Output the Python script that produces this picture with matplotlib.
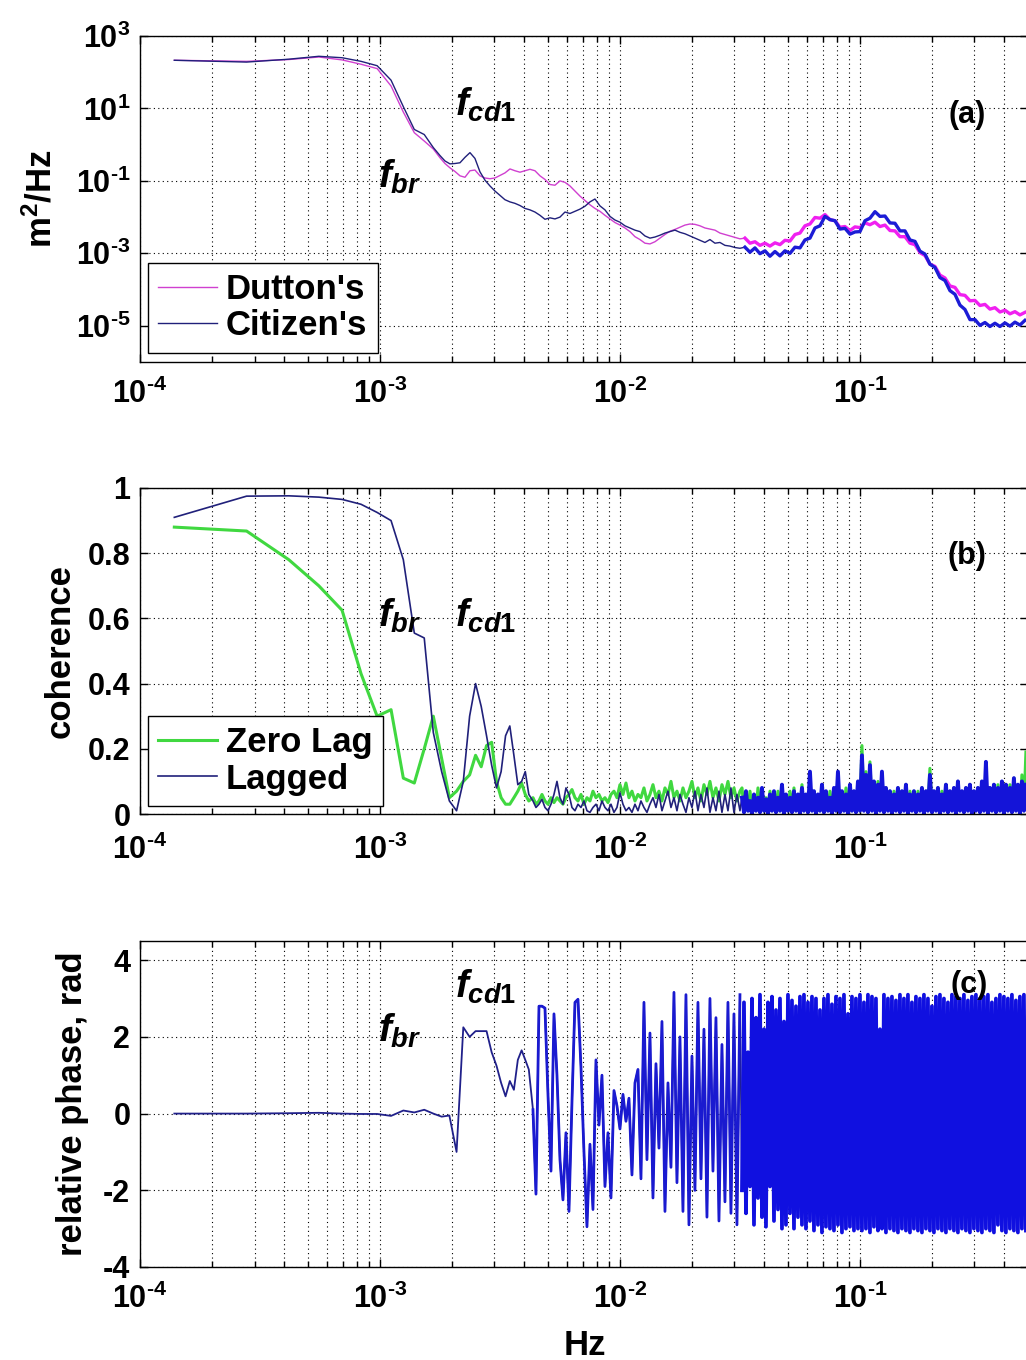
import numpy as np
import matplotlib
matplotlib.use('Agg')
import matplotlib.pyplot as plt
from matplotlib.ticker import LogLocator, NullLocator

plt.rcParams['font.family'] = ['Liberation Sans', 'DejaVu Sans']
plt.rcParams['font.weight'] = 'bold'
plt.rcParams['mathtext.fontset'] = 'custom'
plt.rcParams['mathtext.rm'] = 'Liberation Sans:bold'
plt.rcParams['mathtext.it'] = 'Liberation Sans:italic:bold'
plt.rcParams['mathtext.bf'] = 'Liberation Sans:bold'

# ---- data ----
DF = 1.39e-4                                   # FFT bin width, Hz
FREQ_LOW = DF * np.arange(1, 31)               # first 30 bins
FREQ_MID_A = np.geomspace(1.778e-3, 0.03162, 61)
FREQ_HIGH_A = np.geomspace(0.03318, 0.4870, 57)
FREQ_MID_BC = np.geomspace(4.34e-3, 0.03162, 70)
FREQ_HIGH_BC = np.geomspace(0.03224, 0.4915, 143)

# (a) log10 of spectra, m^2/Hz
dutton_low = [2.33, 2.30, 2.35, 2.42, 2.34, 2.22, 2.10, 1.62, 0.90, 0.33, 0.10, -0.12]
citizen_low = [2.33, 2.28, 2.36, 2.44, 2.40, 2.30, 2.18, 1.78, 1.05, 0.42, 0.28, -0.08]
dutton_mid = [-0.36, -0.52, -0.64, -0.74, -0.86, -0.90, -0.72, -0.70, -0.86, -0.92,
              -0.94, -0.92, -0.85, -0.78, -0.67, -0.72, -0.76, -0.72, -0.68, -0.72,
              -0.86, -0.96, -1.10, -1.12, -1.00, -1.04, -1.14, -1.28, -1.42, -1.54,
              -1.66, -1.76, -1.84, -1.95, -2.05, -2.15, -2.22, -2.30, -2.40, -2.54,
              -2.62, -2.72, -2.74, -2.68, -2.58, -2.48, -2.39, -2.34, -2.28, -2.22,
              -2.19, -2.20, -2.24, -2.30, -2.33, -2.36, -2.44, -2.48, -2.52, -2.56,
              -2.60]
citizen_mid = [-0.30, -0.45, -0.53, -0.52, -0.50, -0.35, -0.22, -0.38, -0.75, -0.98,
               -1.14, -1.28, -1.40, -1.52, -1.58, -1.62, -1.68, -1.76, -1.80, -1.86,
               -1.95, -2.06, -2.02, -2.05, -2.00, -1.86, -1.90, -1.84, -1.78, -1.70,
               -1.58, -1.50, -1.69, -1.80, -1.98, -2.08, -2.14, -2.24, -2.30, -2.36,
               -2.40, -2.52, -2.58, -2.55, -2.50, -2.44, -2.40, -2.36, -2.42, -2.46,
               -2.52, -2.58, -2.64, -2.70, -2.62, -2.72, -2.70, -2.78, -2.80, -2.84,
               -2.86]
dutton_high = [-2.58, -2.72, -2.68, -2.78, -2.72, -2.80, -2.71, -2.76, -2.64, -2.66,
               -2.48, -2.44, -2.24, -2.19, -2.01, -2.03, -1.93, -2.07, -2.10, -2.28,
               -2.26, -2.37, -2.27, -2.29, -2.16, -2.21, -2.14, -2.26, -2.22, -2.37,
               -2.38, -2.54, -2.54, -2.72, -2.76, -2.98, -3.06, -3.30, -3.36, -3.60,
               -3.68, -3.90, -3.94, -4.14, -4.16, -4.31, -4.30, -4.44, -4.41, -4.54,
               -4.50, -4.62, -4.57, -4.67, -4.61, -4.70, -4.63]
citizen_high = [-2.83, -2.97, -2.85, -3.01, -2.93, -3.08, -2.95, -3.07, -2.93, -3.00,
                -2.83, -2.85, -2.63, -2.58, -2.30, -2.24, -1.98, -2.07, -2.10, -2.33,
                -2.31, -2.47, -2.41, -2.40, -2.10, -2.03, -1.85, -1.98, -1.97, -2.16,
                -2.17, -2.38, -2.38, -2.63, -2.67, -2.94, -3.02, -3.30, -3.39, -3.67,
                -3.75, -4.03, -4.13, -4.43, -4.55, -4.83, -4.83, -4.99, -4.91, -5.02,
                -4.93, -5.02, -4.92, -5.01, -4.90, -4.98, -4.85]

# (b) coherence
zero_low = [0.88, 0.868, 0.78, 0.70, 0.625, 0.43, 0.30, 0.32, 0.11, 0.095,
            0.20, 0.30, 0.17, 0.05, 0.07, 0.10, 0.12, 0.18, 0.145, 0.21,
            0.22, 0.10, 0.05, 0.03, 0.03, 0.05, 0.07, 0.095, 0.06, 0.04]
lagged_low = [0.91, 0.975, 0.976, 0.972, 0.965, 0.95, 0.925, 0.90, 0.78, 0.555,
              0.54, 0.25, 0.13, 0.04, 0.01, 0.10, 0.30, 0.40, 0.33, 0.24,
              0.15, 0.08, 0.13, 0.24, 0.27, 0.18, 0.09, 0.10, 0.13, 0.06]
zero_mid = [0.05, 0.03, 0.04, 0.06, 0.04, 0.03, 0.05, 0.035, 0.05, 0.04,
            0.03, 0.05, 0.06, 0.075, 0.05, 0.04, 0.06, 0.03, 0.05, 0.04,
            0.07, 0.05, 0.06, 0.04, 0.05, 0.035, 0.06, 0.07, 0.05, 0.09,
            0.06, 0.095, 0.05, 0.07, 0.04, 0.06, 0.05, 0.08, 0.04, 0.06,
            0.09, 0.05, 0.07, 0.04, 0.08, 0.06, 0.10, 0.05, 0.07, 0.04,
            0.08, 0.05, 0.07, 0.10, 0.05, 0.08, 0.04, 0.09, 0.06, 0.10,
            0.05, 0.08, 0.04, 0.09, 0.06, 0.10, 0.05, 0.08, 0.04, 0.07]
lagged_mid = [0.04, 0.02, 0.03, 0.045, 0.02, 0.01, 0.03, 0.06, 0.10, 0.05,
              0.03, 0.08, 0.06, 0.02, 0.01, 0.03, 0.02, 0.04, 0.01, 0.005,
              0.02, 0.03, 0.01, 0.04, 0.02, 0.01, 0.03, 0.005, 0.02, 0.065,
              0.03, 0.01, 0.02, 0.005, 0.03, 0.01, 0.04, 0.02, 0.005, 0.03,
              0.05, 0.02, 0.06, 0.01, 0.04, 0.07, 0.02, 0.05, 0.01, 0.06,
              0.03, 0.005, 0.05, 0.02, 0.07, 0.01, 0.06, 0.02, 0.08, 0.005,
              0.05, 0.01, 0.07, 0.005, 0.06, 0.01, 0.08, 0.005, 0.06, 0.01]
zero_high = [0.08, 0.02, 0.05, 0.01, 0.07, 0.02, 0.05, 0.01, 0.08, 0.02,
             0.06, 0.01, 0.05, 0.02, 0.07, 0.01, 0.05, 0.02, 0.07, 0.01,
             0.06, 0.02, 0.05, 0.01, 0.07, 0.02, 0.08, 0.01, 0.06, 0.02,
             0.09, 0.01, 0.06, 0.02, 0.11, 0.01, 0.07, 0.02, 0.06, 0.01,
             0.08, 0.02, 0.06, 0.01, 0.07, 0.02, 0.06, 0.01, 0.10, 0.02,
             0.06, 0.01, 0.08, 0.02, 0.06, 0.01, 0.07, 0.02, 0.09, 0.01,
             0.21, 0.02, 0.13, 0.01, 0.16, 0.02, 0.09, 0.01, 0.10, 0.02,
             0.12, 0.01, 0.08, 0.02, 0.07, 0.01, 0.07, 0.02, 0.08, 0.01,
             0.07, 0.02, 0.09, 0.01, 0.07, 0.02, 0.07, 0.01, 0.07, 0.02,
             0.08, 0.01, 0.07, 0.02, 0.14, 0.01, 0.07, 0.02, 0.08, 0.01,
             0.07, 0.02, 0.09, 0.01, 0.07, 0.02, 0.08, 0.01, 0.10, 0.02,
             0.07, 0.01, 0.08, 0.02, 0.09, 0.01, 0.07, 0.02, 0.08, 0.01,
             0.10, 0.02, 0.12, 0.01, 0.08, 0.02, 0.09, 0.01, 0.09, 0.02,
             0.10, 0.01, 0.09, 0.02, 0.09, 0.01, 0.11, 0.02, 0.09, 0.01,
             0.12, 0.02, 0.19]
lagged_high = [0.05, 0.005, 0.07, 0.01, 0.04, 0.0, 0.06, 0.01, 0.05, 0.005,
               0.08, 0.01, 0.045, 0.0, 0.06, 0.01, 0.07, 0.005, 0.05, 0.01,
               0.09, 0.0, 0.06, 0.01, 0.05, 0.005, 0.07, 0.01, 0.06, 0.0,
               0.08, 0.01, 0.06, 0.005, 0.13, 0.01, 0.07, 0.0, 0.06, 0.01,
               0.09, 0.005, 0.07, 0.01, 0.05, 0.0, 0.08, 0.01, 0.13, 0.005,
               0.07, 0.01, 0.06, 0.0, 0.09, 0.01, 0.07, 0.005, 0.10, 0.01,
               0.18, 0.01, 0.12, 0.005, 0.15, 0.01, 0.10, 0.0, 0.09, 0.01,
               0.13, 0.005, 0.08, 0.01, 0.07, 0.0, 0.06, 0.01, 0.08, 0.005,
               0.07, 0.01, 0.09, 0.0, 0.06, 0.01, 0.07, 0.005, 0.06, 0.01,
               0.08, 0.0, 0.07, 0.01, 0.12, 0.005, 0.07, 0.01, 0.08, 0.0,
               0.06, 0.01, 0.09, 0.005, 0.07, 0.01, 0.08, 0.0, 0.10, 0.01,
               0.07, 0.005, 0.08, 0.01, 0.09, 0.0, 0.07, 0.01, 0.08, 0.005,
               0.10, 0.01, 0.16, 0.0, 0.08, 0.01, 0.09, 0.005, 0.08, 0.01,
               0.10, 0.0, 0.09, 0.01, 0.08, 0.005, 0.11, 0.01, 0.09, 0.0,
               0.10, 0.01, 0.09]

# (c) relative phase, rad
phase_low = [0.0, 0.0, 0.01, 0.02, 0.0, -0.01, -0.01, -0.06, 0.08, 0.03,
             0.10, 0.0, -0.08, -0.05, -1.0, 2.25, 2.0, 2.15, 2.15, 2.15,
             1.6, 1.25, 0.8, 0.45, 0.85, 0.62, 1.4, 1.65, 1.4, 1.15]
phase_mid = [0.1, -2.1, 2.8, 2.8, 2.75, 0.5, -1.5, 2.6, 1.0, -1.2,
             -2.25, -0.5, -2.55, 0.3, 2.9, 2.98, 1.2, -1.0, -2.95, -0.8,
             -2.5, 1.4, -0.3, 1.0, -1.9, -0.5, -2.2, 0.6, 0.2, -0.4,
             0.5, -0.2, 0.4, -1.6, 0.8, 1.15, -1.7, 2.9, -1.2, 2.1,
             -2.2, 1.3, -0.9, 2.4, -2.55, 0.8, -1.4, 3.16, -1.8, 2.0,
             -2.55, 3.1, -2.9, 1.5, -2.0, 2.9, -1.7, 2.2, -2.7, 3.0,
             -1.5, 2.5, -2.8, 1.8, -2.3, 2.9, -2.6, 2.6, -2.9, 3.1]
phase_high = [-2.0, 2.9, -2.6, 1.6, -1.9, 3.0, -2.9, 2.5, -2.2, 3.1,
              -2.7, 2.2, -2.95, 2.9, -1.9, 3.05, -2.8, 2.7, -2.5, 3.0,
              -3.0, 2.4, -2.9, 3.1, -2.6, 2.95, -3.0, 2.8, -2.7, 3.05,
              -2.9, 3.1, -3.0, 2.9, -2.8, 3.05, -3.05, 3.0, -2.9, 2.7,
              -3.1, 3.0, -2.95, 3.1, -3.0, 2.85, -3.05, 3.05, -2.9, 3.0,
              -3.1, 3.1, -3.0, 2.6, -2.95, 3.05, -3.05, 3.0, -3.0, 3.1,
              -3.05, 2.9, -3.0, 3.1, -3.1, 3.05, -2.95, 3.0, -3.05, 2.2,
              -3.0, 3.1, -3.1, 3.0, -3.0, 3.05, -3.05, 2.95, -3.1, 3.1,
              -3.0, 3.0, -3.05, 3.1, -3.1, 2.9, -3.0, 3.05, -3.05, 3.0,
              -3.1, 3.1, -3.0, 3.0, -3.05, 2.8, -3.1, 3.05, -3.0, 3.1,
              -3.05, 3.0, -3.1, 2.9, -3.0, 3.1, -3.05, 3.05, -3.1, 3.0,
              -3.0, 3.1, -3.05, 2.95, -3.1, 3.05, -3.0, 3.1, -3.05, 3.0,
              -3.1, 3.05, -3.0, 3.1, -3.05, 2.9, -3.1, 3.0, -2.9, 3.1,
              -3.05, 3.05, -3.1, 3.0, -3.0, 3.1, -3.05, 2.95, -3.1, 3.05,
              -3.0, 3.1, -3.05]

XTICKS = [1e-4, 1e-3, 1e-2, 1e-1]
XTICKLABELS = [r'$10^{\text{-4}}$', r'$10^{\text{-3}}$', r'$10^{\text{-2}}$', r'$10^{\text{-1}}$']

TICK_FS = 22
LABEL_FS = 25
NOTE_FS = 28
DOT = (0, (1, 3))

fig = plt.figure(figsize=(10.26, 13.6), dpi=100)
L, W, H = 140 / 1026, 887.7 / 1026, 326 / 1360
ax1 = fig.add_axes([L, 1 - 362 / 1360, W, H])
ax2 = fig.add_axes([L, 1 - 814 / 1360, W, H])
ax3 = fig.add_axes([L, 1 - 1267 / 1360, W, H])


def style_axis(ax, xpad):
    ax.set_xscale('log')
    ax.set_xlim(1e-4, 0.5)
    ax.set_xticks(XTICKS)
    ax.set_xticklabels(XTICKLABELS)
    ax.xaxis.set_minor_locator(LogLocator(base=10, subs=np.arange(2, 10), numticks=50))
    ax.tick_params(which='both', direction='in', top=True, right=True,
                   labelsize=TICK_FS, width=1.0)
    ax.tick_params(which='major', length=6)
    ax.tick_params(which='minor', length=4)
    ax.tick_params(axis='x', pad=xpad)
    ax.tick_params(axis='y', pad=7)
    ax.grid(True, which='major', linestyle=DOT, color='k', linewidth=0.8)
    ax.grid(True, which='minor', axis='x', linestyle=DOT, color='k', linewidth=0.8)
    ax.set_axisbelow(True)
    for s in ax.spines.values():
        s.set_linewidth(1.0)


def add_legend(ax, handles, bottom):
    leg = ax.legend(handles=handles, loc='lower left', bbox_to_anchor=(0.009, bottom),
                    borderaxespad=0, fontsize=25, fancybox=False, framealpha=1,
                    edgecolor='k', handlelength=1.7, handletextpad=0.25,
                    borderpad=0.3, labelspacing=0.1)
    leg.get_frame().set_linewidth(1.0)


# ---- (a) spectra ----
fa = np.concatenate([FREQ_LOW[:12], FREQ_MID_A, FREQ_HIGH_A])
d_all = 10 ** np.array(dutton_low + dutton_mid + dutton_high)
c_all = 10 ** np.array(citizen_low + citizen_mid + citizen_high)
hd, = ax1.plot(fa, d_all, color='#d040d0', lw=1.0, label="Dutton's")
ax1.plot(FREQ_HIGH_A, 10 ** np.array(dutton_high), color='#f020f0', lw=2.4)
hc, = ax1.plot(fa, c_all, color='#20207a', lw=1.0, label="Citizen's")
ax1.plot(FREQ_HIGH_A, 10 ** np.array(citizen_high), color='#1c1cd6', lw=2.4)
style_axis(ax1, 12)
ax1.set_yscale('log')
ax1.set_ylim(1e-6, 1e3)
ax1.set_yticks([1e-5, 1e-3, 1e-1, 1e1, 1e3])
ax1.set_yticklabels([r'$10^{\text{-5}}$', r'$10^{\text{-3}}$', r'$10^{\text{-1}}$',
                     r'$10^{1}$', r'$10^{3}$'])
ax1.yaxis.set_minor_locator(NullLocator())
ax1.set_ylabel(r'm$^{2}$/Hz', fontsize=LABEL_FS, fontweight='bold')
ax1.yaxis.set_label_coords(-0.092, 0.5)
add_legend(ax1, [hd, hc], 0.028)
ax1.text(2.05e-3, 6.4, r'$f_{\mathit{cd1}}$', fontsize=NOTE_FS, ha='left', va='baseline')
ax1.text(9.8e-4, 0.064, r'$f_{br}$', fontsize=NOTE_FS, ha='left', va='baseline')
ax1.text(0.932, 0.758, '(a)', transform=ax1.transAxes, fontsize=22,
         ha='center', va='center')

# ---- (b) coherence ----
fb = np.concatenate([FREQ_LOW, FREQ_MID_BC, FREQ_HIGH_BC])
hz, = ax2.plot(fb, zero_low + zero_mid + zero_high, color='#40d840', lw=2.2,
               label='Zero Lag')
hl, = ax2.plot(fb, lagged_low + lagged_mid + lagged_high, color='#20207a', lw=1.2,
               label='Lagged')
ax2.plot(FREQ_HIGH_BC, lagged_high, color='#1414d8', lw=2.8)
style_axis(ax2, 15)
ax2.set_ylim(0, 1)
ax2.set_yticks([0, 0.2, 0.4, 0.6, 0.8, 1])
ax2.set_yticklabels(['0', '0.2', '0.4', '0.6', '0.8', '1'])
ax2.set_ylabel('coherence', fontsize=LABEL_FS, fontweight='bold')
ax2.yaxis.set_label_coords(-0.071, 0.5)
add_legend(ax2, [hz, hl], 0.0245)
ax2.text(9.8e-4, 0.574, r'$f_{br}$', fontsize=NOTE_FS, ha='left', va='baseline')
ax2.text(2.05e-3, 0.574, r'$f_{\mathit{cd1}}$', fontsize=NOTE_FS, ha='left', va='baseline')
ax2.text(0.932, 0.791, '(b)', transform=ax2.transAxes, fontsize=22,
         ha='center', va='center')

# ---- (c) relative phase ----
ax3.plot(fb, phase_low + phase_mid + phase_high, color='#20208a', lw=1.3)
ax3.plot(FREQ_MID_BC, phase_mid, color='#1a1ad0', lw=2.0)
ax3.plot(FREQ_HIGH_BC, phase_high, color='#1010e0', lw=2.7)
style_axis(ax3, 12)
ax3.set_ylim(-4, 4.5)
ax3.set_yticks([-4, -2, 0, 2, 4])
ax3.set_yticklabels(['-4', '-2', '0', '2', '4'])
ax3.set_ylabel('relative phase, rad', fontsize=LABEL_FS, fontweight='bold')
ax3.yaxis.set_label_coords(-0.058, 0.5)
ax3.set_xlabel('Hz', fontsize=LABEL_FS, fontweight='bold')
ax3.xaxis.set_label_coords(0.501, -0.19)
ax3.text(2.05e-3, 3.03, r'$f_{\mathit{cd1}}$', fontsize=NOTE_FS, ha='left', va='baseline')
ax3.text(9.8e-4, 1.88, r'$f_{br}$', fontsize=NOTE_FS, ha='left', va='baseline')
ax3.text(0.934, 0.865, '(c)', transform=ax3.transAxes, fontsize=22,
         ha='center', va='center')

fig.savefig('out.png', dpi=100)
